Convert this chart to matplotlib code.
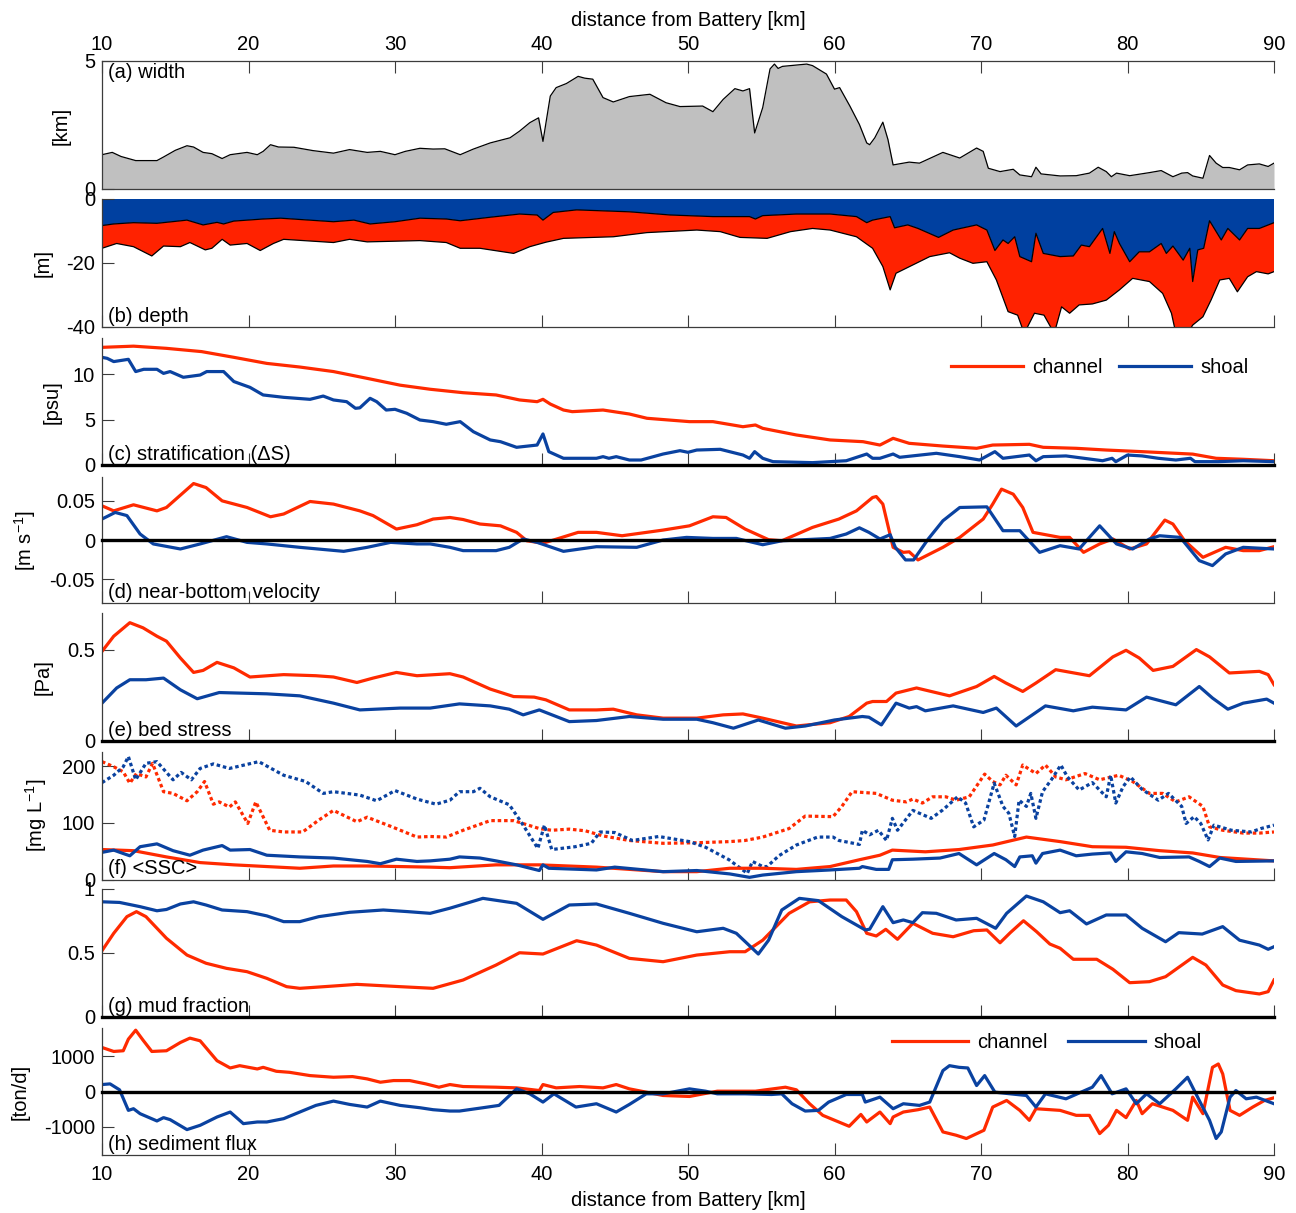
import numpy as np
import matplotlib
matplotlib.use("Agg")
import matplotlib.pyplot as plt
from matplotlib.lines import Line2D

plt.rcParams['font.family'] = ['Liberation Sans', 'DejaVu Sans']
plt.rcParams['mathtext.fontset'] = 'custom'
plt.rcParams['mathtext.rm'] = 'Liberation Sans'
plt.rcParams['mathtext.it'] = 'Liberation Sans:italic'
plt.rcParams['axes.unicode_minus'] = False
FS = 14.5
plt.rcParams['font.size'] = FS

# ---------------- data ----------------
km_ticks = [10, 20, 30, 40, 50, 60, 70, 80, 90]

# (a) width [km]
width_km = [10, 10.7, 11.3, 12.3, 13.75, 14.2, 15.0, 15.8, 16.25, 16.9, 17.5, 18.2, 18.75, 19.9, 20.6, 21.0,
            21.5, 22.05, 23.1, 24.4, 25.8, 26.9, 28.1, 29.0, 30.0, 30.7, 31.7, 32.6, 33.4, 34.45, 35.35, 36.5,
            37.85, 38.5, 39.2, 39.8, 40.1, 40.6, 41.0, 41.7, 42.5, 42.95, 43.5, 44.2, 44.9, 46.0, 47.4, 48.5,
            49.45, 51.0, 51.7, 52.4, 53.2, 53.75, 54.2, 54.55, 55.1, 55.6, 55.9, 56.15, 56.45, 58.1, 58.5, 59.45,
            60.0, 60.35, 61.05, 61.7, 62.2, 62.4, 62.75, 63.3, 63.65, 64.0, 65.1, 65.8, 67.4, 68.55, 69.7, 70.15,
            70.5, 71.3, 72.2, 72.65, 73.45, 73.75, 74.1, 75.4, 76.5, 77.4, 78.0, 78.55, 78.9, 79.25, 80.15, 81.5,
            82.3, 83.1, 83.7, 84.1, 84.45, 85.15, 85.6, 86.05, 86.5, 86.95, 87.65, 88.2, 89.0, 89.6, 90]
width = [1.34, 1.43, 1.27, 1.11, 1.11, 1.25, 1.51, 1.69, 1.64, 1.43, 1.38, 1.19, 1.34, 1.43, 1.34, 1.47,
         1.73, 1.64, 1.63, 1.50, 1.40, 1.54, 1.43, 1.47, 1.34, 1.47, 1.59, 1.56, 1.57, 1.34, 1.56, 1.80,
         2.00, 2.26, 2.59, 2.78, 1.86, 3.63, 3.96, 4.12, 4.40, 4.33, 4.29, 3.57, 3.40, 3.61, 3.70, 3.37,
         3.22, 3.24, 3.02, 3.50, 3.92, 3.83, 3.92, 2.19, 3.18, 4.69, 4.88, 4.71, 4.79, 4.88, 4.82, 4.49,
         3.90, 3.96, 3.24, 2.52, 1.80, 1.73, 2.00, 2.61, 1.93, 0.94, 1.05, 1.01, 1.43, 1.21, 1.60, 1.47,
         0.81, 0.68, 0.77, 0.55, 0.48, 0.85, 0.59, 0.51, 0.52, 0.62, 0.85, 0.68, 0.48, 0.62, 0.52, 0.64,
         0.72, 0.48, 0.62, 0.64, 0.51, 0.42, 1.31, 1.01, 0.84, 0.84, 0.75, 0.94, 0.98, 0.88, 1.01]

# (b) depth [m]: shoal and channel bottoms
shoal_km = [10, 10.8, 12.15, 13.75, 15.8, 16.9, 17.85, 18.3, 19.0, 21.0, 22.2, 25.8, 27.2, 28.3, 30.0, 31.7,
            33.5, 34.45, 36.5, 38.5, 39.7, 40.1, 40.8, 42.4, 46.0, 48.8, 51.7, 54.2, 54.6, 55.1, 57.4, 59.7,
            61.5, 62.2, 62.6, 63.8, 64.1, 65.0, 65.7, 67.1, 68.1, 69.7, 70.4, 70.95, 71.5, 71.85, 72.3, 72.65,
            73.45, 73.75, 74.25, 75.4, 76.3, 76.85, 77.4, 78.3, 78.8, 79.1, 79.45, 80.15, 80.8, 81.5, 82.3,
            82.65, 83.1, 83.8, 84.25, 84.45, 84.8, 85.2, 85.6, 86.4, 86.85, 87.65, 88.2, 89.0, 90]
shoal_depth = [-8.3, -7.8, -7.4, -7.6, -6.6, -8.1, -7.3, -7.8, -6.9, -6.25, -6.0, -7.1, -6.6, -7.8, -7.1, -6.0,
               -6.25, -6.8, -5.7, -4.7, -5.0, -6.6, -4.2, -3.4, -4.0, -5.0, -5.5, -5.5, -6.25, -5.2, -4.7, -4.7,
               -5.5, -7.4, -6.6, -5.5, -9.0, -8.1, -9.2, -12.0, -9.7, -8.1, -9.7, -16.1, -12.8, -13.9, -11.8, -18.0,
               -19.6, -10.7, -17.0, -18.0, -17.8, -14.4, -14.9, -9.2, -17.0, -10.2, -13.9, -19.6, -16.5, -16.5, -13.9,
               -17.0, -14.7, -19.1, -15.4, -25.8, -15.9, -15.4, -6.8, -12.8, -9.2, -12.8, -9.2, -9.2, -7.4]
chan_km = [10, 11.0, 12.15, 13.4, 14.2, 15.35, 16.0, 17.05, 17.5, 18.2, 18.75, 19.9, 20.8, 21.7, 22.4, 25.8,
           26.9, 28.1, 31.7, 33.5, 34.45, 35.8, 38.1, 39.2, 40.3, 41.5, 44.9, 47.2, 50.6, 52.2, 53.55, 55.4,
           57.0, 58.5, 59.7, 61.5, 62.6, 63.3, 63.8, 64.2, 65.35, 66.5, 67.85, 68.55, 69.45, 70.4, 71.05, 71.85,
           72.5, 72.95, 73.65, 74.3, 75.0, 75.5, 76.05, 76.7, 77.6, 78.55, 79.45, 80.35, 81.5, 82.4, 83.0, 83.3,
           84.1, 84.45, 85.15, 85.7, 86.3, 86.95, 87.5, 88.2, 88.8, 89.6, 90]
chan_depth = [-15.4, -13.9, -14.9, -17.8, -14.7, -14.9, -13.6, -15.9, -15.4, -12.6, -14.4, -13.9, -16.1, -13.9, -12.6, -13.6,
              -12.6, -13.4, -13.0, -13.6, -15.4, -15.4, -17.0, -14.9, -13.5, -12.3, -11.8, -10.5, -9.7, -10.2, -12.0, -12.3,
              -10.2, -9.2, -9.7, -11.8, -15.4, -21.1, -28.4, -23.2, -20.6, -18.0, -16.8, -18.5, -20.1, -19.6, -25.3, -35.2,
              -36.3, -42.0, -35.7, -36.3, -42.0, -33.7, -35.7, -33.1, -32.8, -31.6, -28.4, -24.8, -25.8, -29.5, -35.7, -42.0,
              -42.0, -39.4, -36.8, -31.6, -25.3, -24.8, -29.0, -24.3, -22.7, -23.4, -22.7]

# (c) stratification [psu]
strat_ch_km = [10, 12.15, 14.4, 16.8, 19.0, 21.25, 23.5, 25.8, 28.1, 30.35, 32.4, 34.65, 36.9, 38.5, 39.7, 40.1,
               40.6, 41.5, 42.1, 44.2, 46.0, 47.2, 50.1, 51.7, 53.75, 54.6, 55.1, 57.4, 59.7, 61.95, 63.1, 64.0,
               65.1, 67.4, 69.7, 70.8, 73.3, 74.25, 76.5, 78.55, 81.0, 83.3, 84.45, 86.05, 87.9, 90]
strat_ch = [12.97, 13.1, 12.86, 12.5, 11.87, 11.2, 10.8, 10.3, 9.55, 8.8, 8.35, 7.97, 7.72, 7.17, 6.98, 7.24,
            6.72, 6.06, 5.88, 6.06, 5.62, 5.15, 4.78, 4.78, 4.22, 4.41, 4.04, 3.31, 2.76, 2.57, 2.2, 2.94,
            2.39, 2.09, 1.84, 2.2, 2.28, 1.95, 1.84, 1.65, 1.47, 1.29, 1.2, 0.74, 0.63, 0.47]
strat_sh_km = [10, 10.35, 10.8, 11.8, 12.3, 12.85, 13.75, 14.2, 14.65, 15.55, 16.7, 17.15, 18.3, 19.0, 20.1, 21.0,
               22.4, 24.2, 25.1, 25.8, 26.7, 27.3, 27.6, 28.3, 28.75, 29.4, 30.0, 30.8, 31.7, 32.6, 33.5, 34.45,
               35.35, 36.5, 37.2, 38.3, 39.7, 40.1, 40.5, 41.5, 43.75, 44.2, 44.6, 45.1, 46.0, 46.8, 48.3, 49.45,
               50.0, 50.6, 52.2, 53.75, 54.2, 54.55, 55.1, 55.8, 58.5, 60.8, 62.2, 62.6, 63.1, 64.0, 64.45, 66.95,
               68.55, 69.9, 70.95, 71.5, 73.3, 73.75, 74.25, 75.8, 78.3, 78.95, 79.2, 80.0, 81.0, 82.1, 83.3, 84.3,
               84.6, 86.2, 87.9, 90]
strat_sh = [11.87, 11.76, 11.4, 11.65, 10.3, 10.55, 10.55, 10.1, 10.3, 9.67, 9.92, 10.3, 10.3, 9.2, 8.56, 7.72,
            7.46, 7.24, 7.6, 7.17, 6.98, 6.25, 6.3, 7.35, 6.98, 6.06, 6.14, 5.7, 4.96, 4.78, 4.49, 4.78,
            3.67, 2.76, 2.57, 1.95, 2.2, 3.42, 1.47, 0.74, 0.74, 0.92, 0.74, 0.92, 0.55, 0.55, 1.21, 1.58,
            1.4, 1.65, 1.73, 1.1, 0.74, 1.47, 0.74, 0.37, 0.26, 0.47, 1.21, 0.74, 0.74, 1.21, 0.85, 1.29,
            0.92, 0.55, 1.47, 0.74, 1.1, 0.47, 0.92, 1.0, 0.47, 0.74, 0.37, 1.1, 1.0, 0.74, 0.55, 0.74,
            0.37, 0.37, 0.47, 0.37]

# (d) near-bottom velocity [m/s]
vel_ch_km = [10, 10.8, 12.15, 13.75, 14.4, 16.25, 17.1, 18.2, 19.9, 21.5, 22.4, 24.2, 25.8, 27.6, 28.5, 30.1,
             31.5, 32.6, 33.75, 34.65, 35.8, 37.2, 38.3, 39.0, 40.1, 41.0, 42.5, 43.75, 45.5, 48.3, 50.1, 51.7,
             52.6, 53.9, 55.5, 56.4, 58.5, 60.3, 61.5, 62.6, 62.85, 63.3, 64.0, 64.7, 65.1, 65.7, 67.4, 68.55,
             70.15, 70.8, 71.4, 72.2, 72.85, 73.55, 75.4, 76.05, 77.0, 78.1, 79.0, 80.15, 81.3, 82.55, 83.1, 83.9,
             85.15, 86.7, 87.9, 89.0, 90]
vel_ch = [0.0434, 0.037, 0.0447, 0.037, 0.0413, 0.0717, 0.0666, 0.0497, 0.0413, 0.0295, 0.033, 0.0489, 0.0456, 0.037, 0.031, 0.0139,
          0.0194, 0.0266, 0.0286, 0.026, 0.0203, 0.018, 0.0097, -0.001, -0.004, 0.001, 0.0097, 0.0097, 0.0054, 0.0126, 0.018, 0.0295,
          0.0286, 0.0139, 0.0004, -0.001, 0.016, 0.0266, 0.037, 0.054, 0.0552, 0.0456, -0.0093, -0.0157, -0.015, -0.0253, -0.0093, 0.0033,
          0.0266, 0.0456, 0.0646, 0.0582, 0.0413, 0.0097, 0.0033, 0.0033, -0.0157, -0.005, 0.0013, -0.0114, -0.005, 0.0253, 0.0203, -0.001,
          -0.022, -0.0093, -0.0135, -0.0135, -0.0085]
vel_sh_km = [10, 10.9, 11.7, 12.6, 13.5, 15.35, 16.7, 18.5, 19.9, 21.25, 23.5, 26.5, 28.1, 29.7, 31.5, 32.4,
             33.75, 34.65, 36.9, 37.8, 38.75, 39.7, 41.5, 43.75, 46.5, 48.3, 49.9, 51.7, 53.3, 55.1, 56.4, 59.7,
             60.8, 61.7, 62.35, 63.1, 63.8, 64.15, 64.85, 65.4, 66.4, 67.4, 68.55, 70.4, 71.5, 72.65, 74.0, 75.4,
             76.7, 78.1, 79.25, 80.35, 81.5, 82.2, 83.6, 84.9, 85.8, 86.7, 87.9, 90]
vel_sh = [0.0266, 0.035, 0.031, 0.0076, -0.005, -0.0114, -0.005, 0.0042, -0.003, -0.005, -0.0093, -0.0144, -0.0093, -0.003, -0.005, -0.005,
          -0.0093, -0.0135, -0.0135, -0.0093, 0.0013, -0.003, -0.0144, -0.0085, -0.0093, 0.0, 0.0033, 0.002, 0.002, -0.006, -0.001, 0.002,
          0.0076, 0.0155, 0.0097, 0.0013, 0.0067, -0.0093, -0.0253, -0.0253, 0.0013, 0.0244, 0.0413, 0.0421, 0.0118, 0.0118, -0.0157, -0.0072,
          -0.0114, 0.018, -0.005, -0.0114, 0.0013, 0.0054, 0.0033, -0.0262, -0.0325, -0.0177, -0.0093, -0.0114]

# (e) bed stress [Pa]
tau_ch_km = [10, 10.8, 11.9, 12.8, 13.75, 14.4, 15.35, 16.25, 16.9, 17.85, 19.0, 20.1, 22.4, 24.6, 25.8, 27.4,
             28.5, 30.1, 31.5, 33.75, 34.65, 36.5, 38.1, 39.5, 40.3, 41.9, 43.75, 44.9, 46.5, 48.3, 50.6, 52.4,
             53.75, 55.1, 57.4, 59.7, 61.0, 62.2, 62.6, 63.55, 64.2, 65.6, 67.85, 69.7, 70.9, 71.7, 72.85, 73.75,
             75.1, 77.4, 79.0, 79.9, 80.8, 81.75, 83.1, 84.7, 85.6, 86.95, 89.0, 89.6, 90]
tau_ch = [0.49, 0.573, 0.647, 0.619, 0.573, 0.546, 0.454, 0.375, 0.386, 0.43, 0.4, 0.35, 0.363, 0.357, 0.35, 0.32,
          0.344, 0.375, 0.357, 0.368, 0.35, 0.284, 0.243, 0.24, 0.225, 0.17, 0.17, 0.174, 0.143, 0.125, 0.125, 0.143,
          0.148, 0.125, 0.082, 0.1, 0.134, 0.207, 0.216, 0.216, 0.262, 0.29, 0.247, 0.298, 0.353, 0.317, 0.271, 0.317,
          0.39, 0.357, 0.46, 0.496, 0.454, 0.386, 0.408, 0.5, 0.46, 0.372, 0.381, 0.363, 0.308]
tau_sh_km = [10, 11.0, 11.9, 13.0, 14.2, 15.35, 16.5, 18.0, 21.25, 23.5, 25.8, 27.6, 30.35, 32.4, 34.4, 36.5,
             37.8, 38.75, 39.85, 41.9, 43.75, 46.0, 48.3, 50.6, 51.7, 53.1, 54.8, 56.65, 58.0, 60.0, 61.9, 62.35,
             63.2, 64.2, 65.1, 65.6, 66.2, 68.1, 70.15, 71.05, 72.4, 74.4, 76.3, 77.6, 79.9, 81.3, 83.3, 84.9,
             85.8, 86.85, 87.9, 89.5, 90]
tau_sh = [0.207, 0.29, 0.335, 0.335, 0.344, 0.28, 0.231, 0.265, 0.258, 0.247, 0.207, 0.17, 0.18, 0.18, 0.203, 0.192,
          0.174, 0.143, 0.17, 0.106, 0.112, 0.134, 0.119, 0.119, 0.1, 0.07, 0.115, 0.07, 0.082, 0.115, 0.134, 0.13,
          0.088, 0.207, 0.18, 0.188, 0.165, 0.192, 0.156, 0.18, 0.082, 0.192, 0.165, 0.185, 0.17, 0.24, 0.198, 0.298,
          0.235, 0.174, 0.207, 0.229, 0.207]

# (f) <SSC> [mg/L]: solid = surface, dotted = near bottom
ssc_ch_bot_km = [10, 10.8, 11.45, 11.9, 12.35, 13.0, 13.45, 14.2, 14.85, 15.8, 16.5, 17.0, 17.6, 18.0, 18.7, 19.1,
                 19.95, 20.5, 21.45, 22.4, 23.7, 24.8, 25.8, 27.4, 28.1, 29.8, 31.5, 32.4, 33.5, 34.65, 36.5, 38.1,
                 39.85, 40.7, 41.9, 43.0, 44.2, 46.0, 48.3, 50.6, 52.85, 53.9, 55.1, 56.9, 58.0, 59.9, 60.5, 61.2,
                 62.85, 63.95, 64.9, 65.35, 66.0, 66.7, 67.6, 68.3, 69.2, 70.25, 70.8, 71.3, 71.7, 72.4, 72.85, 73.75,
                 74.4, 75.1, 75.8, 77.1, 78.1, 79.4, 80.35, 81.5, 82.4, 83.3, 84.2, 85.15, 85.6, 86.5, 87.9, 89.0, 90]
ssc_ch_bot = [208, 199, 190, 170, 187, 181, 205, 155, 152, 139, 155, 173, 133, 137, 128, 137,
              99, 137, 87, 84, 84, 105, 122, 102, 110, 93, 75, 76, 75, 87, 104, 104,
              90, 87, 89, 86, 77, 69, 64, 65, 67, 69, 75, 90, 112, 111, 129, 155,
              152, 140, 137, 142, 135, 146, 146, 140, 146, 186, 173, 167, 184, 167, 202, 187,
              202, 181, 176, 187, 176, 184, 173, 152, 152, 137, 146, 129, 93, 87, 82, 82, 84]
ssc_sh_bot_km = [10, 10.8, 11.45, 11.8, 12.3, 13.0, 13.75, 14.85, 15.4, 16.1, 16.7, 17.6, 18.7, 20.7, 22.4, 23.9,
                 25.1, 25.8, 27.6, 28.75, 30.0, 31.5, 32.8, 33.75, 34.4, 35.35, 35.8, 36.5, 37.8, 38.6, 39.75, 40.2,
                 40.7, 42.3, 43.4, 44.0, 45.0, 46.2, 48.0, 50.1, 51.2, 52.8, 54.05, 54.4, 55.1, 55.4, 56.2, 57.4,
                 58.85, 59.9, 60.3, 61.7, 61.9, 62.4, 63.0, 63.55, 63.95, 64.3, 65.35, 66.6, 67.4, 68.4, 68.95, 69.5,
                 70.2, 70.9, 71.5, 71.9, 72.3, 72.6, 73.1, 73.4, 73.75, 74.2, 74.8, 75.45, 75.9, 76.7, 77.6, 78.55,
                 78.85, 79.2, 79.7, 80.2, 81.0, 82.1, 82.8, 83.7, 84.0, 84.55, 85.0, 85.5, 85.9, 87.1, 88.45, 89.1, 90]
ssc_sh_bot = [171, 184, 199, 217, 176, 205, 208, 176, 189, 176, 196, 204, 196, 208, 184, 173,
              152, 155, 149, 139, 157, 142, 133, 140, 155, 155, 161, 146, 132, 102, 55, 96,
              53, 58, 64, 84, 83, 69, 76, 67, 57, 35, 11, 32, 23, 23, 42, 61,
              75, 75, 69, 62, 87, 79, 87, 69, 108, 87, 122, 108, 123, 146, 135, 93,
              105, 170, 129, 117, 76, 140, 129, 152, 108, 155, 176, 202, 181, 158, 171, 146,
              184, 135, 164, 181, 159, 140, 152, 129, 99, 111, 99, 70, 96, 87, 84, 90, 96]
ssc_ch_top_km = [10, 12.15, 14.4, 16.7, 19.0, 21.25, 23.5, 25.8, 28.1, 30.35, 32.4, 33.75, 36.9, 39.85, 43.75, 48.3,
                 50.6, 52.85, 55.1, 57.4, 59.7, 61.7, 63.1, 63.95, 66.2, 68.5, 70.8, 73.1, 75.4, 77.6, 79.9, 82.2,
                 84.45, 86.3, 90]
ssc_ch_top = [53, 51, 40, 30, 26, 23, 20, 24, 24, 23, 22, 21, 26, 26, 22, 14,
              14, 20, 20, 18, 23, 35, 43, 52, 49, 53, 61, 75, 67, 58, 57, 51,
              47, 39, 33]
ssc_sh_top_km = [10, 10.8, 11.45, 11.9, 12.6, 13.75, 14.85, 16.0, 16.9, 18.2, 18.75, 20.1, 21.25, 23.5, 25.8, 28.1,
                 29.0, 30.1, 31.5, 32.4, 33.75, 34.4, 35.8, 36.9, 38.3, 39.85, 40.1, 40.5, 43.75, 45.0, 48.3, 50.6,
                 52.85, 54.2, 55.1, 57.4, 59.7, 61.7, 61.9, 62.85, 63.7, 63.95, 65.35, 67.2, 68.5, 69.7, 70.9, 71.7,
                 72.3, 72.65, 73.5, 73.75, 74.2, 75.4, 76.5, 77.6, 78.85, 79.2, 79.9, 81.0, 82.2, 84.2, 84.9, 85.6,
                 86.3, 87.4, 90]
ssc_sh_top = [48, 52, 46, 42, 58, 63, 51, 43, 52, 60, 52, 53, 43, 40, 38, 32,
              28, 36, 32, 33, 36, 40, 38, 33, 26, 16, 26, 20, 17, 22, 14, 16,
              10, 4, 8, 14, 17, 20, 23, 18, 18, 35, 36, 38, 46, 26, 46, 35,
              23, 40, 42, 29, 46, 52, 42, 45, 47, 32, 49, 46, 39, 40, 32, 23,
              38, 32, 33]

# (g) mud fraction
mud_ch_km = [10, 10.8, 11.7, 12.35, 13.0, 14.4, 15.8, 17.1, 18.5, 19.9, 21.25, 22.6, 23.5, 25.8, 27.4, 30.35,
             32.6, 34.65, 36.9, 38.5, 40.1, 42.4, 43.75, 46.0, 48.3, 50.6, 52.85, 53.9, 55.1, 56.9, 58.3, 59.7,
             60.8, 61.5, 62.2, 62.85, 63.5, 64.3, 65.35, 66.7, 68.1, 69.5, 70.4, 71.3, 72.0, 72.9, 73.8, 74.7,
             75.4, 76.3, 77.9, 79.0, 80.15, 81.5, 82.6, 84.45, 85.35, 86.5, 87.4, 89.0, 89.6, 90]
mud_ch = [0.518, 0.654, 0.784, 0.823, 0.784, 0.615, 0.484, 0.42, 0.38, 0.354, 0.302, 0.237, 0.224, 0.242, 0.255, 0.237,
          0.224, 0.289, 0.406, 0.502, 0.492, 0.596, 0.562, 0.458, 0.432, 0.484, 0.51, 0.51, 0.60, 0.81, 0.90, 0.914,
          0.914, 0.823, 0.654, 0.633, 0.685, 0.607, 0.732, 0.654, 0.627, 0.674, 0.68, 0.58, 0.659, 0.752, 0.666, 0.57,
          0.537, 0.451, 0.451, 0.373, 0.268, 0.276, 0.315, 0.466, 0.406, 0.25, 0.206, 0.18, 0.198, 0.289]
mud_sh_km = [10, 11.2, 12.6, 13.75, 14.4, 15.35, 16.25, 17.1, 18.2, 19.9, 21.25, 22.4, 23.5, 24.8, 26.9, 29.2,
             30.9, 32.4, 33.75, 36.0, 38.3, 40.1, 41.9, 43.75, 46.0, 48.3, 50.6, 52.4, 53.3, 54.8, 55.5, 56.4,
             57.6, 58.9, 60.5, 62.1, 62.4, 63.3, 64.0, 64.7, 65.35, 66.0, 66.95, 68.3, 69.7, 71.0, 71.75, 73.1,
             74.25, 75.4, 76.05, 77.2, 78.55, 79.9, 81.0, 82.6, 83.5, 85.1, 86.5, 87.65, 89.0, 89.6, 90]
mud_sh = [0.90, 0.895, 0.862, 0.83, 0.84, 0.883, 0.90, 0.875, 0.836, 0.823, 0.79, 0.745, 0.745, 0.784, 0.818, 0.836,
          0.823, 0.81, 0.85, 0.927, 0.888, 0.763, 0.875, 0.883, 0.81, 0.732, 0.666, 0.693, 0.654, 0.492, 0.60, 0.836,
          0.927, 0.909, 0.784, 0.68, 0.686, 0.862, 0.737, 0.758, 0.737, 0.815, 0.81, 0.758, 0.771, 0.693, 0.81, 0.945,
          0.90, 0.815, 0.83, 0.727, 0.797, 0.797, 0.693, 0.588, 0.659, 0.648, 0.706, 0.60, 0.562, 0.529, 0.549]

# (h) sediment flux [ton/d]
flux_ch_km = [10, 10.8, 11.45, 11.8, 12.3, 12.8, 13.4, 14.4, 15.35, 16.0, 16.7, 17.85, 18.75, 19.4, 20.6, 21.0,
              21.9, 22.8, 24.2, 25.8, 27.1, 28.1, 29.0, 29.9, 31.0, 32.1, 33.0, 33.75, 34.65, 36.9, 38.3, 39.85,
              40.1, 41.0, 42.6, 44.2, 45.1, 46.0, 48.3, 50.1, 52.0, 54.6, 56.65, 57.4, 58.3, 59.2, 61.0, 61.8,
              62.2, 63.1, 63.8, 64.0, 64.7, 65.7, 66.5, 67.4, 68.3, 69.0, 70.2, 70.8, 71.75, 72.65, 73.3, 73.75,
              75.4, 76.5, 77.4, 78.1, 78.7, 79.25, 79.9, 80.6, 81.0, 81.7, 83.1, 84.1, 84.45, 85.15, 85.8, 86.2,
              86.5, 87.0, 87.65, 88.55, 89.35, 90]
flux_ch = [1248, 1135, 1155, 1484, 1738, 1456, 1135, 1155, 1389, 1513, 1437, 873, 667, 732, 639, 685,
           573, 544, 451, 404, 423, 357, 263, 310, 310, 216, 122, 197, 141, 122, 103, 28,
           197, 103, 141, 103, 197, 75, -113, -141, 9, 9, 122, 47, -347, -676, -986, -650,
           -864, -582, -911, -723, -582, -516, -441, -1146, -1239, -1333, -1099, -441, -254, -535, -817, -488,
           -535, -676, -676, -1193, -958, -535, -741, -254, -629, -347, -535, -817, -160, -629, 685, 780,
           498, -535, -676, -441, -254, -178]
flux_sh_km = [10, 10.55, 11.2, 11.8, 12.15, 12.6, 13.75, 14.2, 14.65, 15.8, 16.7, 17.85, 18.75, 19.65, 20.6, 21.25,
              22.4, 23.5, 24.6, 25.8, 26.9, 28.1, 29.0, 30.35, 31.7, 32.6, 33.75, 34.4, 36.0, 37.1, 38.3, 39.2,
              40.1, 40.85, 42.35, 43.75, 45.1, 46.0, 47.15, 48.3, 50.1, 51.2, 52.0, 53.9, 55.7, 56.4, 57.1, 58.0,
              58.9, 59.6, 60.8, 61.9, 62.1, 63.1, 64.0, 64.7, 65.8, 66.5, 67.4, 67.85, 68.5, 69.1, 69.7, 70.25,
              70.95, 72.0, 73.1, 73.75, 74.4, 75.8, 77.6, 78.2, 78.95, 79.9, 80.6, 81.3, 82.2, 83.3, 84.1, 84.9,
              85.6, 86.05, 86.4, 87.0, 87.4, 88.1, 88.8, 90]
flux_sh = [197, 216, 47, -535, -488, -629, -835, -741, -798, -1080, -958, -723, -582, -911, -864, -864,
           -770, -582, -394, -272, -366, -441, -272, -394, -460, -516, -554, -554, -460, -394, 75, -66,
           -300, -66, -441, -347, -582, -366, -66, -66, 75, 9, -66, -66, -85, -66, -347, -554,
           -535, -300, -85, -85, -300, -160, -488, -347, -394, -300, 592, 732, 685, 667, 169, 451,
           -19, -66, -113, -441, -66, -207, 122, 451, -66, 75, -347, -66, -347, 75, 404, -254,
           -817, -1333, -1146, -160, 28, -207, -160, -347]

# ---------------- style ----------------
RED = '#FF2A00'
BLUE = '#0A42A0'
RED_FILL = '#FF2200'
BLUE_FILL = '#0040A0'
GREY_FILL = '#C0C0C0'
SPINE = '#3c3c3c'
LW = 2.3

W, H = 1296, 1213
fig = plt.figure(figsize=(W / 100, H / 100), dpi=100)
X0, X1 = 102, 1274


def panel(top, bottom):
    return fig.add_axes([X0 / W, 1 - bottom / H, (X1 - X0) / W, (bottom - top) / H])


def base_style(ax, ylim, yticks, yticklabels=None):
    ax.set_xlim(10, 90)
    ax.set_ylim(*ylim)
    ax.set_xticks(km_ticks)
    ax.set_yticks(yticks)
    if yticklabels is not None:
        ax.set_yticklabels(yticklabels)
    for s in ax.spines.values():
        s.set_color(SPINE)
        s.set_linewidth(0.9)
    ax.spines['right'].set_visible(False)
    ax.tick_params(direction='in', length=8.6, width=0.8, color=SPINE,
                   labelsize=FS, pad=5)
    ax.patch.set_alpha(0)


def bottom_axes(ax, labels=False):
    ax.spines['top'].set_visible(False)
    ax.xaxis.set_ticks_position('bottom')
    ax.tick_params(axis='x', labelbottom=labels, pad=7)


def zero_line(ax):
    ax.axhline(0, color='k', lw=2.4, zorder=6, clip_on=False)


def tag(ax, s, top=False):
    if top:
        ax.text(0.005, 0.985, s, transform=ax.transAxes, ha='left', va='top', fontsize=FS)
    else:
        ax.text(0.005, 0.01, s, transform=ax.transAxes, ha='left', va='bottom', fontsize=FS)


def ylab(x, y, s):
    fig.text(x / W, 1 - y / H, s, rotation=90, ha='center', va='center', fontsize=FS)


def ch_sh_legend(ax, x, y, hl, cs):
    handles = [Line2D([], [], color=RED, lw=LW), Line2D([], [], color=BLUE, lw=LW)]
    ax.legend(handles, ['channel', 'shoal'], loc='center left', bbox_to_anchor=(x, y),
              ncol=2, frameon=False, handlelength=hl, handletextpad=0.45,
              columnspacing=cs, borderpad=0, borderaxespad=0, fontsize=FS)


# (a) width
ax = panel(61, 189)
base_style(ax, (0, 5), [0, 5])
ax.xaxis.set_ticks_position('top')
ax.tick_params(axis='x', labeltop=True, labelbottom=False, pad=5)
ax.fill_between(width_km, width, 0, color=GREY_FILL, lw=0)
ax.plot(width_km, width, color='k', lw=0.9)
tag(ax, '(a) width', top=True)
ylab(61, 126, '[km]')

# (b) depth
ax = panel(199, 327)
base_style(ax, (-40, 0), [-40, -20, 0])
bottom_axes(ax)
ax.fill([shoal_km[0]] + shoal_km + [shoal_km[-1]], [0] + shoal_depth + [0], color=BLUE_FILL, lw=0)
ax.fill(shoal_km + chan_km[::-1], shoal_depth + chan_depth[::-1], color=RED_FILL, lw=0)
ax.plot(shoal_km, shoal_depth, color='k', lw=0.9)
ax.plot(chan_km, chan_depth, color='k', lw=0.9)
tag(ax, '(b) depth')
ylab(43, 263, '[m]')

# (c) stratification
ax = panel(338, 465)
base_style(ax, (0, 14), [0, 5, 10])
bottom_axes(ax)
ax.plot(strat_ch_km, strat_ch, color=RED, lw=LW)
ax.plot(strat_sh_km, strat_sh, color=BLUE, lw=LW)
zero_line(ax)
tag(ax, '(c) stratification (\u0394S)')
ch_sh_legend(ax, 0.724, 0.764, 3.6, 0.8)
ylab(52, 402, '[psu]')

# (d) near-bottom velocity
ax = panel(477, 603)
base_style(ax, (-0.08, 0.08), [-0.05, 0, 0.05], ['-0.05', '0', '0.05'])
bottom_axes(ax)
ax.plot(vel_ch_km, vel_ch, color=RED, lw=LW)
ax.plot(vel_sh_km, vel_sh, color=BLUE, lw=LW)
zero_line(ax)
tag(ax, '(d) near-bottom velocity')
ylab(25, 540, '[m s$^{-1}$]')

# (e) bed stress
ax = panel(613, 741)
base_style(ax, (0, 0.7), [0, 0.5], ['0', '0.5'])
bottom_axes(ax)
ax.plot(tau_ch_km, tau_ch, color=RED, lw=LW)
ax.plot(tau_sh_km, tau_sh, color=BLUE, lw=LW)
zero_line(ax)
tag(ax, '(e) bed stress')
ylab(43, 677, '[Pa]')

# (f) suspended sediment concentration
ax = panel(752, 879.6)
base_style(ax, (0, 225), [0, 100, 200])
bottom_axes(ax)
dot = (0, (1.1, 0.9))
ax.plot(ssc_ch_bot_km, ssc_ch_bot, color=RED, lw=LW, ls=dot)
ax.plot(ssc_sh_bot_km, ssc_sh_bot, color=BLUE, lw=LW, ls=dot)
ax.plot(ssc_ch_top_km, ssc_ch_top, color=RED, lw=LW)
ax.plot(ssc_sh_top_km, ssc_sh_top, color=BLUE, lw=LW)
tag(ax, '(f) <SSC>')
ylab(36, 815, '[mg L$^{-1}$]')

# (g) mud fraction
ax = panel(889, 1017)
base_style(ax, (0, 1), [0, 0.5, 1], ['0', '0.5', '1'])
bottom_axes(ax)
ax.plot(mud_ch_km, mud_ch, color=RED, lw=LW)
ax.plot(mud_sh_km, mud_sh, color=BLUE, lw=LW)
zero_line(ax)
tag(ax, '(g) mud fraction')

# (h) sediment flux
ax = panel(1028, 1155)
base_style(ax, (-1800, 1800), [-1000, 0, 1000])
bottom_axes(ax, labels=True)
ax.plot(flux_ch_km, flux_ch, color=RED, lw=LW)
ax.plot(flux_sh_km, flux_sh, color=BLUE, lw=LW)
zero_line(ax)
tag(ax, '(h) sediment flux')
ch_sh_legend(ax, 0.674, 0.882, 3.8, 1.0)
ylab(20, 1092, '[ton/d]')

fig.text(688 / W, 1 - 20 / H, 'distance from Battery [km]', ha='center', va='center', fontsize=FS)
fig.text(688 / W, 1 - 1201 / H, 'distance from Battery [km]', ha='center', va='center', fontsize=FS)

fig.savefig('out.png', dpi=100, facecolor='white')
